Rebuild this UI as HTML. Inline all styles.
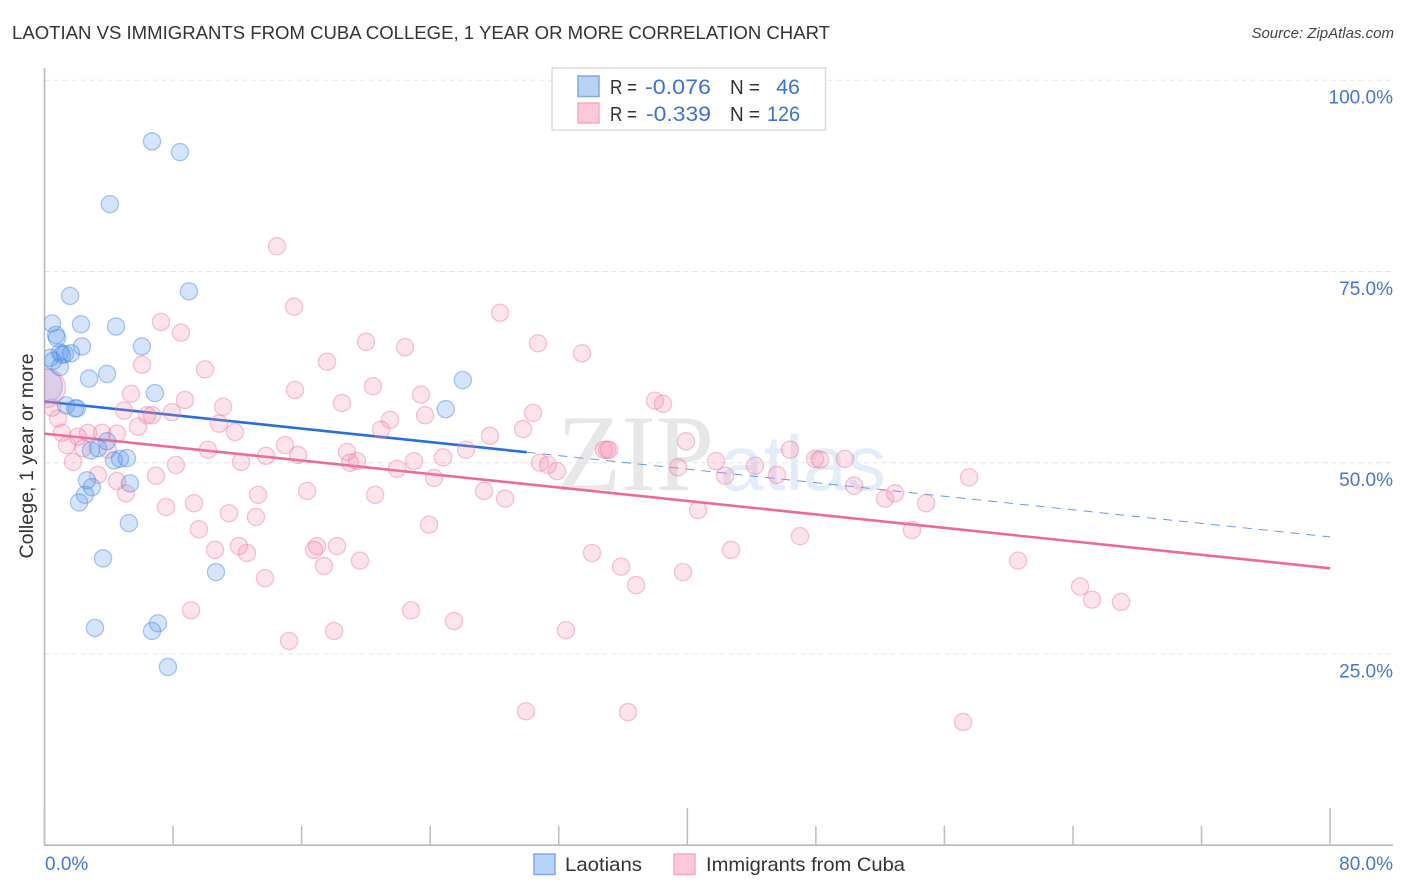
<!DOCTYPE html>
<html lang="en">
<head>
<meta charset="utf-8">
<title>Laotian vs Immigrants from Cuba College Correlation Chart</title>
<style>
html,body{margin:0;padding:0;background:#fff;width:1406px;height:892px;overflow:hidden}
svg{display:block}
text{font-family:"Liberation Sans",sans-serif}
</style>
</head>
<body>
<svg id="chart" xmlns="http://www.w3.org/2000/svg" width="1406" height="892" viewBox="0 0 1406 892">
  <defs>
    <clipPath id="plot-clip"><rect x="44.5" y="60" width="1350" height="785"></rect></clipPath>
  </defs>
  <rect x="0" y="0" width="1406" height="892" fill="#fff"></rect>
  <text x="12" y="39" font-size="18.5" fill="#333" textLength="818" lengthAdjust="spacingAndGlyphs">LAOTIAN VS IMMIGRANTS FROM CUBA COLLEGE, 1 YEAR OR MORE CORRELATION CHART</text>
  <text x="1394" y="38" font-size="15" font-style="italic" fill="#444" text-anchor="end">Source: ZipAtlas.com</text>
  <text transform="translate(33 456) rotate(-90)" font-size="19" fill="#333" text-anchor="middle" textLength="205" lengthAdjust="spacingAndGlyphs">College, 1 year or more</text>
  <g id="grid"></g>
  <g id="watermark">
    <text x="557" y="490" font-size="109" fill="#e7e7e7" style="font-family:'Liberation Serif',serif" textLength="157" lengthAdjust="spacingAndGlyphs">ZIP</text>
    <text x="720" y="490" font-size="78" fill="#e3ecf9" textLength="166" lengthAdjust="spacingAndGlyphs">atlas</text>
  </g>
  <g id="axes"></g>
  <g id="trends" clip-path="url(#plot-clip)"></g>
  <g id="points" clip-path="url(#plot-clip)"></g>
  <g id="tick-labels"></g>

  <g>
    <rect x="552" y="68" width="273.5" height="62" fill="#fff" stroke="#dcdcdc" stroke-width="1.5"></rect>
    <rect x="578" y="76" width="21" height="20.5" fill="#b9d3f8" stroke="#7faae6" stroke-width="1.5"></rect>
    <rect x="578" y="103" width="21" height="20" fill="#fdc9da" stroke="#f6a7bf" stroke-width="1.5"></rect>
    <text x="610" y="94" font-size="20" fill="#333" textLength="27" lengthAdjust="spacingAndGlyphs">R =</text>
    <text x="645" y="94" font-size="21.5" fill="#3b72d2" textLength="66" lengthAdjust="spacingAndGlyphs">-0.076</text>
    <text x="730" y="94" font-size="20" fill="#333" textLength="30" lengthAdjust="spacingAndGlyphs">N =</text>
    <text x="800" y="94" font-size="21.5" fill="#3b72d2" text-anchor="end">46</text>
    <text x="610" y="121" font-size="20" fill="#333" textLength="27" lengthAdjust="spacingAndGlyphs">R =</text>
    <text x="646" y="121" font-size="21.5" fill="#3b72d2" textLength="65" lengthAdjust="spacingAndGlyphs">-0.339</text>
    <text x="730" y="121" font-size="20" fill="#333" textLength="30" lengthAdjust="spacingAndGlyphs">N =</text>
    <text x="800" y="121" font-size="21.5" fill="#3b72d2" text-anchor="end" textLength="33" lengthAdjust="spacingAndGlyphs">126</text>
  </g>

  <g>
    <rect x="534" y="854" width="21" height="20.5" fill="#b9d3f8" stroke="#7faae6" stroke-width="1.5"></rect>
    <text x="565" y="871" font-size="19.5" fill="#333" textLength="77" lengthAdjust="spacingAndGlyphs">Laotians</text>
    <rect x="674" y="854" width="21" height="20.5" fill="#fdc9da" stroke="#f6a7bf" stroke-width="1.5"></rect>
    <text x="706" y="871" font-size="19.5" fill="#333" textLength="199" lengthAdjust="spacingAndGlyphs">Immigrants from Cuba</text>
  </g>
</svg>
<script>
const laotianX = [6.69,8.43,4.07,8.99,1.59,0.47,2.27,4.45,0.72,0.78,2.33,6.06,0.96,1.09,1.27,1.65,0.34,0.53,0.96,2.77,3.89,26.03,6.87,24.97,1.34,1.9,2.02,2.89,3.33,3.89,4.32,4.7,5.13,5.32,2.64,2.95,2.52,2.15,5.25,3.64,10.67,7.06,6.69,3.14,7.68];
const laotianY = [92.0,90.6,83.8,72.4,71.8,68.2,68.1,67.8,66.7,66.3,65.2,65.2,64.4,64.1,64.2,64.3,63.7,63.3,62.5,61.0,61.6,60.8,59.1,57.0,57.5,57.1,57.1,51.6,51.9,52.8,50.3,50.5,50.6,47.3,47.7,46.8,45.8,44.8,42.1,37.5,35.7,29.0,28.0,28.4,23.3];
const cubaX = [7.25,8.49,6.07,9.99,5.38,8.74,11.11,4.95,7.93,6.38,6.69,5.82,10.86,11.85,15.53,15.59,0.84,0.47,1.09,2.08,2.71,3.58,1.40,2.40,3.95,1.77,10.17,14.97,13.78,12.23,15.78,8.18,3.33,6.94,4.51,5.07,7.56,9.30,13.29,11.48,13.16,9.61,16.34,14.47,28.35,30.71,20.01,22.43,33.45,17.58,20.44,23.43,18.51,21.50,23.68,20.94,29.78,30.40,27.72,37.99,38.49,39.92,46.39,34.82,35.00,35.13,30.83,31.33,31.89,39.42,41.79,42.35,44.21,45.58,47.95,48.26,49.81,50.38,52.30,52.93,40.67,28.66,54.86,18.82,19.01,19.45,21.94,22.99,24.80,26.23,24.24,20.57,27.35,23.93,47.01,53.98,57.53,60.58,64.44,65.19,66.99,57.16,42.72,39.73,34.07,35.88,36.81,32.45,29.96,36.31,25.48,22.81,18.02,15.22,9.12,13.72,12.60,12.10,10.61,19.63,18.20,16.96,16.77,17.39,4.51];
const cubaY = [68.4,67.0,62.8,62.2,59.0,58.2,57.3,56.8,56.6,56.2,56.2,54.7,55.1,54.0,70.4,59.5,55.8,57.2,53.9,53.4,53.9,53.9,52.3,51.9,51.7,50.1,51.7,52.3,50.9,50.1,51.0,49.7,48.4,48.3,47.6,46.0,44.2,44.7,45.8,43.4,42.9,41.3,46.3,78.3,69.6,65.6,65.8,65.1,64.3,63.2,60.0,58.9,57.8,55.6,56.2,54.3,54.4,56.5,53.5,58.1,57.7,52.8,51.7,51.7,51.7,51.7,50.0,49.7,48.9,49.4,50.2,48.3,49.6,48.4,50.5,50.4,50.5,47.0,45.3,46.0,43.8,45.3,44.7,51.4,50.0,50.2,49.2,50.2,50.7,51.7,48.0,45.8,46.3,41.9,40.4,41.2,48.1,37.2,33.8,32.1,31.8,16.1,38.6,35.7,38.2,36.4,34.0,28.1,17.5,17.4,29.3,30.7,28.0,26.7,30.7,34.9,38.2,39.1,38.6,37.2,39.1,39.1,38.6,36.5,53.8];
const laotianLargeX = [0.05];
const laotianLargeY = [60.0];
const cubaLargeX = [0.05];
const cubaLargeY = [59.8];
const laotianTrendX = [0, 30, 80];
const laotianTrendY = [58.0, 51.37, 40.3];
const cubaTrendX = [0, 80];
const cubaTrendY = [53.8, 36.2];
const xTicks = [0,8,16,24,32,40,48,56,64,72,80];
const xMajorTicks = [0,40,80];
const xTickLabels = ["0.0%","80.0%"];
const xTickLabelValues = [0,80];
const yTicks = [25,50,75,100];
const yTickLabels = ["25.0%","50.0%","75.0%","100.0%"];

const NS = "http://www.w3.org/2000/svg";
function xScale(v){ return 44.5 + v * 16.07; }
function yScale(v){ return 845.2 - v * 7.65; }
function make(tag, parent, attrs){
  const el = document.createElementNS(NS, tag);
  Object.keys(attrs).forEach(function(k){ el.setAttribute(k, attrs[k]); });
  document.getElementById(parent).appendChild(el);
  return el;
}

yTicks.forEach(function(t){
  const line = make("line","grid",{x1:44.5,x2:1393,y1:yScale(t),y2:yScale(t),stroke:"#e4e4e4","stroke-width":1,"stroke-dasharray":"5 4"});
  
  
});

const yAxisLine = make("line","axes",{x1:44.5,x2:44.5,y1:68,y2:845.5,stroke:"#b8b8b8","stroke-width":1.6});


const xAxisLine = make("line","axes",{x1:44,x2:1393,y1:845.2,y2:845.2,stroke:"#b8b8b8","stroke-width":1.6});


xTicks.forEach(function(t){
  const top = xMajorTicks.indexOf(t) >= 0 ? 808 : 826;
  const tick = make("line","axes",{x1:xScale(t),x2:xScale(t),y1:top,y2:845,stroke:"#c0c0c0","stroke-width":1.6});
  
  
});

yTicks.forEach(function(t,i){
  const label = make("text","tick-labels",{x:1393,y:yScale(t)+23.5,"font-size":19,fill:"#4477d4","text-anchor":"end"});
  
  
  label.textContent = yTickLabels[i];
});
xTickLabelValues.forEach(function(t,i){
  const label = make("text","tick-labels",{x:t===0?45:1393,y:870,"font-size":19,fill:"#4477d4","text-anchor":t===0?"start":"end"});
  
  
  label.textContent = xTickLabels[i];
});

const laotianSolid = make("line","trends",{x1:xScale(laotianTrendX[0]),y1:yScale(laotianTrendY[0]),x2:xScale(laotianTrendX[1]),y2:yScale(laotianTrendY[1]),stroke:"#2a6fd8","stroke-width":2.6});


const laotianDashed = make("line","trends",{x1:xScale(laotianTrendX[1]),y1:yScale(laotianTrendY[1]),x2:xScale(laotianTrendX[2]),y2:yScale(laotianTrendY[2]),stroke:"#6b9be2","stroke-width":1,"stroke-dasharray":"9 7"});


const cubaLine = make("line","trends",{x1:xScale(cubaTrendX[0]),y1:yScale(cubaTrendY[0]),x2:xScale(cubaTrendX[1]),y2:yScale(cubaTrendY[1]),stroke:"#ec6a9a","stroke-width":2.6});



const blueStyle = {fill:"rgba(92,150,235,0.26)",stroke:"rgba(62,128,222,0.42)","stroke-width":1.3};
const pinkStyle = {fill:"rgba(247,140,172,0.24)",stroke:"rgba(236,112,152,0.40)","stroke-width":1.3};
function dot(x, y, r, style){
  return make("circle","points",Object.assign({cx:xScale(x),cy:yScale(y),r:r},style));
}
laotianLargeX.forEach(function(v,i){
  const big = dot(v, laotianLargeY[i], 17, blueStyle);
  
  
});
cubaLargeX.forEach(function(v,i){
  const big = dot(v, cubaLargeY[i], 20, pinkStyle);
  
  
});
cubaX.forEach(function(v,i){
  const p = dot(v, cubaY[i], 8.6, pinkStyle);
  
  
});
laotianX.forEach(function(v,i){
  const p = dot(v, laotianY[i], 8.6, blueStyle);
  
  
});
</script>
</body>
</html>
